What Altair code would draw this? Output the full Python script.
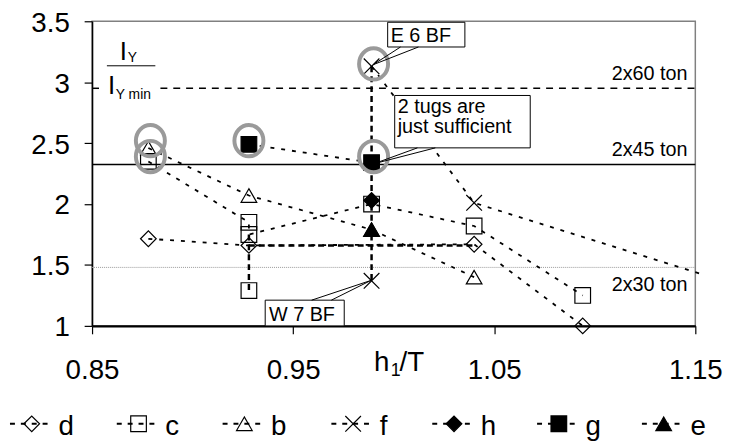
import altair as alt
import pandas as pd

FONT = "Liberation Sans"

# ---------------- data ----------------
series = ["d", "c", "b", "f", "h", "g", "e"]

d_x = [0.878, 0.928, 1.040, 1.094]
d_y = [1.715, 1.660, 1.670, 1.000]
c_x = [0.878, 0.928, 0.928, 0.989, 1.040, 1.094]
c_y = [2.350, 1.850, 1.750, 2.000, 1.820, 1.250]
b_x = [0.878, 0.928, 0.989, 1.040]
b_y = [2.460, 2.070, 1.790, 1.400]
f_x = [0.989, 1.040, 1.152]
f_y = [3.130, 2.010, 1.430]
h_x = [0.989]
h_y = [2.030]
g_x = [0.928, 0.989]
g_y = [2.490, 2.340]
e_x = [0.989]
e_y = [1.790]

# isolated (unconnected) markers
iso_series = ["c", "f"]
iso_x = [0.928, 0.989]
iso_y = [1.290, 1.370]

# tug capacity levels
tug_labels = ["2x60 ton", "2x45 ton", "2x30 ton"]
tug_y = [2.95, 2.325, 1.48]
tug_label_y = [3.021, 2.396, 1.284]

# heavy dashed range lines
rng_x1 = [0.989, 0.928, 0.928]
rng_y1 = [3.13, 1.75, 1.66]
rng_x2 = [0.989, 0.928, 1.040]
rng_y2 = [1.37, 1.29, 1.66]

# grey highlight circles
circ_x = [0.879, 0.879, 0.928, 0.990, 0.990]
circ_y = [2.52, 2.39, 2.52, 2.39, 3.15]

# callout boxes
box_text = ["E 6 BF", "2 tugs are", "just sufficient", "W 7 BF"]
box_text_x = [0.9985, 1.002, 1.002, 0.938]
box_text_y = [3.330, 2.745, 2.580, 1.040]
box_x1 = [0.9970, 1.0005, 0.9361]
box_x2 = [1.0354, 1.0679, 0.9754]
box_y1 = [3.492, 2.891, 1.211]
box_y2 = [3.289, 2.461, 1.000]
wedge_x1 = [1.0034, 1.0123, 1.0118, 1.0207, 0.9592, 0.9690]
wedge_y1 = [3.289, 3.289, 2.461, 2.461, 1.211, 1.211]
wedge_x2 = [0.9897, 0.9897, 0.9902, 0.9902, 0.9887, 0.9887]
wedge_y2 = [3.143, 3.143, 2.331, 2.331, 1.373, 1.373]

x_ticks = [0.85, 0.95, 1.05, 1.15]
y_ticks = [1, 1.5, 2, 2.5, 3, 3.5]

# ---------------- styles ----------------
XPATH = "M-1,-1L1,1M-1,1L1,-1"
ELLIPSE = "M-1,0A1,1.08,0,1,1,1,0A1,1.08,0,1,1,-1,0Z"
shapes = ["diamond", "square", "triangle-up", XPATH, "diamond", "square", "triangle-up"]
fills = ["transparent", "transparent", "transparent", "transparent", "black", "black", "black"]

rows = []
for name, xs, ys in [("d", d_x, d_y), ("c", c_x, c_y), ("b", b_x, b_y), ("f", f_x, f_y),
                     ("h", h_x, h_y), ("g", g_x, g_y), ("e", e_x, e_y)]:
    for i, (xv, yv) in enumerate(zip(xs, ys)):
        rows.append({"series": name, "x": xv, "y": yv, "order": i})
line_df = pd.DataFrame(rows)
mk_df = pd.concat([
    line_df[line_df["x"] <= 1.15][["series", "x", "y"]],
    pd.DataFrame({"series": iso_series, "x": iso_x, "y": iso_y}),
], ignore_index=True)
mk_df["k"] = mk_df["series"].map({s: i for i, s in enumerate(series)})
mk_df = mk_df.sort_values("k", kind="stable")

xs = alt.Scale(domain=[0.85, 1.15], nice=False, zero=False)
ys = alt.Scale(domain=[1, 3.5], nice=False, zero=False)
xaxis = alt.Axis(values=x_ticks, format=".2f", title=None, grid=False, labelFont=FONT,
                 labelFontSize=28, labelColor="black", labelPadding=23, tickSize=8,
                 tickColor="black", tickWidth=1.2, domainColor="black", domainWidth=2.5,
                 labelFlush=False, labelOverlap=False)
yaxis = alt.Axis(values=y_ticks, format="~g", title=None, grid=False, labelFont=FONT,
                 labelFontSize=28, labelColor="black", labelPadding=15, tickSize=8,
                 tickColor="black", tickWidth=1.2, domainColor="black", domainWidth=1.5,
                 labelFlush=False, labelOverlap=False, labelOffset=2)


def X(f):
    return alt.X(f, type="quantitative", scale=xs, axis=xaxis)


def Y(f):
    return alt.Y(f, type="quantitative", scale=ys, axis=yaxis)


shape_enc = alt.Shape("series:N", scale=alt.Scale(domain=series, range=shapes), legend=None)
fill_enc = alt.Fill("series:N", scale=alt.Scale(domain=series, range=fills), legend=None)

# reference lines
ref_df = pd.DataFrame({"x1": [0.85, 0.884], "x2": [0.8535, 1.15], "y": [tug_y[0], tug_y[0]]})
ref60 = alt.Chart(ref_df).mark_rule(color="black", strokeWidth=1.5, strokeDash=[7, 6]).encode(
    x=X("x1"), x2="x2", y=Y("y"))
ref45 = alt.Chart(pd.DataFrame({"x1": [0.85], "x2": [1.15], "y": [tug_y[1]]})).mark_rule(
    color="black", strokeWidth=1.5).encode(x=X("x1"), x2="x2", y=Y("y"))
ref30 = alt.Chart(pd.DataFrame({"x1": [0.85], "x2": [1.15], "y": [tug_y[2]]})).mark_rule(
    color="#999999", strokeWidth=1, strokeDash=[1, 1]).encode(x=X("x1"), x2="x2", y=Y("y"))

lines = alt.Chart(line_df).mark_line(color="black", strokeWidth=1.8, strokeDash=[4, 7]).encode(
    x=X("x"), y=Y("y"), detail="series:N", order="order:Q")

markers = alt.Chart(mk_df).mark_point(stroke="black", strokeWidth=1.2, size=250, opacity=1).encode(
    x=X("x"), y=Y("y"), shape=shape_enc, fill=fill_enc)

rng_df = pd.DataFrame({"x1": rng_x1, "y1": rng_y1, "x2": rng_x2, "y2": rng_y2})
ranges = alt.Chart(rng_df).mark_rule(color="black", strokeWidth=2.5, strokeDash=[6, 4]).encode(
    x=X("x1"), y=Y("y1"), x2="x2", y2="y2")

circles = alt.Chart(pd.DataFrame({"x": circ_x, "y": circ_y})).mark_point(
    shape=ELLIPSE, size=860, stroke="#9a9a9a", strokeWidth=4, fill="transparent", opacity=1
).encode(x=X("x"), y=Y("y"))

boxes = alt.Chart(pd.DataFrame({"x1": box_x1, "x2": box_x2, "y1": box_y1, "y2": box_y2})).mark_rect(
    fill="white", stroke="black", strokeWidth=1).encode(x=X("x1"), x2="x2", y=Y("y1"), y2="y2")
wedges = alt.Chart(pd.DataFrame({"x1": wedge_x1, "y1": wedge_y1, "x2": wedge_x2, "y2": wedge_y2})).mark_rule(
    color="black", strokeWidth=1).encode(x=X("x1"), y=Y("y1"), x2="x2", y2="y2")
box_texts = alt.Chart(pd.DataFrame({"t": box_text, "x": box_text_x, "y": box_text_y})).mark_text(
    align="left", baseline="alphabetic", font=FONT, fontSize=20, color="black").encode(
    x=X("x"), y=Y("y"), text="t:N")

ton_texts = alt.Chart(pd.DataFrame({"t": tug_labels, "x": [1.1461] * 3, "y": tug_label_y})).mark_text(
    align="right", baseline="alphabetic", font=FONT, fontSize=20, color="black").encode(
    x=X("x"), y=Y("y"), text="t:N")

# legend (pixel layout below the plot)
leg_cx = [-61, 47, 154, 264, 366, 472, 578]
leg_df = pd.DataFrame({"series": series, "cx": leg_cx})
leg_df["l1"] = leg_df["cx"] - 22
leg_df["l2"] = leg_df["cx"] + 20
leg_df["ly"] = 407
leg_lines = alt.Chart(leg_df).mark_rule(color="black", strokeWidth=2, strokeDash=[5, 6]).encode(
    x=alt.X("l1:Q", scale=None), x2="l2:Q", y=alt.Y("ly:Q", scale=None))
leg_pts = alt.Chart(leg_df).mark_point(stroke="black", strokeWidth=1.2, size=250, opacity=1).encode(
    x=alt.X("cx:Q", scale=None), y=alt.Y("ly:Q", scale=None), shape=shape_enc, fill=fill_enc)

# pixel-positioned texts: legend labels and axis titles
pt_rows = [{"t": s, "px": cx + 27, "py": 418, "fs": 28} for s, cx in zip(series, leg_cx)]
pt_rows += [
    {"t": "h", "px": 285, "py": 354, "fs": 28},
    {"t": "1", "px": 302, "py": 359, "fs": 18},
    {"t": "/T", "px": 311, "py": 354, "fs": 28},
    {"t": "I", "px": 28, "py": 39, "fs": 26},
    {"t": "Y", "px": 36, "py": 41, "fs": 14},
    {"t": "I", "px": 16, "py": 74, "fs": 26},
    {"t": "Y min", "px": 24, "py": 79, "fs": 14},
]
pix_texts = alt.Chart(pd.DataFrame(pt_rows)).mark_text(
    align="left", baseline="alphabetic", font=FONT, color="black").encode(
    x=alt.X("px:Q", scale=None), y=alt.Y("py:Q", scale=None), text="t:N",
    size=alt.Size("fs:Q", scale=None, legend=None))
frac = alt.Chart(pd.DataFrame({"a": [0]})).mark_rule(color="black", strokeWidth=1).encode(
    x=alt.value(15), x2=alt.value(64), y=alt.value(45))

chart = alt.layer(
    ref30, ref45, ref60, lines, markers, ranges, circles, boxes, wedges, box_texts, ton_texts,
    leg_lines, leg_pts, pix_texts, frac
).properties(
    width=610, height=308,
    autosize=alt.AutoSizeParams(type="none"),
    padding={"left": 85, "top": 11, "right": 29, "bottom": 116},
    background="white",
).configure_view(stroke="#808080", strokeWidth=1.5)

chart.save("out.html", embed_options={"renderer": "svg", "actions": False})
